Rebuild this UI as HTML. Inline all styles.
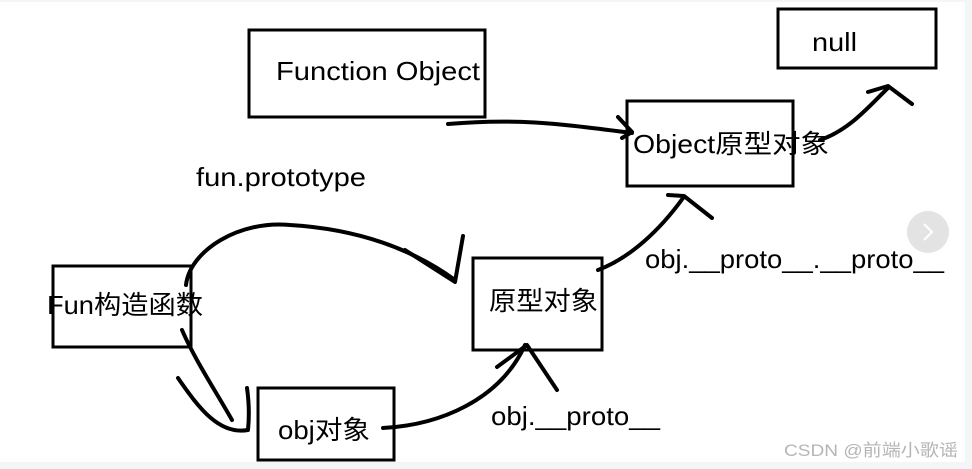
<!DOCTYPE html>
<html><head><meta charset="utf-8"><style>
html,body{margin:0;padding:0;background:#fff;}
svg{display:block}
text{font-family:"Liberation Sans","Noto Sans CJK SC",sans-serif;fill:#000}
</style></head><body>
<svg width="972" height="469" viewBox="0 0 972 469" xmlns="http://www.w3.org/2000/svg">
<rect x="0" y="0" width="972" height="469" fill="#fff"/>
<rect x="0" y="462" width="972" height="7" fill="#f4f5f7"/>
<rect x="965" y="0" width="7" height="469" fill="#f4f5f7"/>
<rect x="0" y="0" width="972" height="2" fill="#f4f5f7"/>
<g fill="none" stroke="#000" stroke-width="3">
<rect x="249" y="30" width="236" height="87"/>
<rect x="778" y="9" width="158" height="59"/>
<rect x="627" y="101" width="166" height="85"/>
<rect x="53" y="266" width="138" height="81"/>
<rect x="473" y="258" width="129" height="92"/>
<rect x="258" y="388" width="136" height="72"/>
</g>
<g fill="none" stroke="#000" stroke-width="4" stroke-linecap="round" stroke-linejoin="round">
<path d="M448 124 C520 118 560 124 632 133"/>
<path d="M618 117 L632 132 L622 138"/>
<path d="M820 140 C850 130 870 105 888 88"/>
<path d="M868 92 L888 86 L912 104"/>
<path d="M598 270 C630 258 660 230 683 198"/>
<path d="M668 195 L684 196 L712 218"/>
<path d="M186 285 C190 250 240 220 290 225 C340 228 400 240 455 280"/>
<path d="M405 250 L455 282 L463 236"/>
<path d="M182 330 C195 360 215 390 232 420"/>
<path d="M178 378 C200 410 220 435 248 430 C250 410 248 395 247 388"/>
<path d="M383 428 C440 425 500 400 525 345"/>
<path d="M497 367 L527 345 L557 390" />
</g>
<g font-size="26">
<text x="276" y="80" textLength="204" lengthAdjust="spacingAndGlyphs">Function Object</text>
<text x="812" y="51" textLength="45" lengthAdjust="spacingAndGlyphs">null</text>
<text x="633" y="153" textLength="196" lengthAdjust="spacingAndGlyphs">Object原型对象</text>
<text x="196" y="186" textLength="170" lengthAdjust="spacingAndGlyphs">fun.prototype</text>
<text x="47" y="314" textLength="156" lengthAdjust="spacingAndGlyphs">Fun构造函数</text>
<text x="489" y="310" textLength="109" lengthAdjust="spacingAndGlyphs">原型对象</text>
<text x="278" y="439" textLength="92" lengthAdjust="spacingAndGlyphs">obj对象</text>
<text x="645" y="268" textLength="299" lengthAdjust="spacingAndGlyphs">obj.__proto__.__proto__</text>
<text x="491" y="425" textLength="169" lengthAdjust="spacingAndGlyphs">obj.__proto__</text>
</g>
<text x="784" y="456" font-size="17" textLength="174" lengthAdjust="spacingAndGlyphs" style="fill:#b5b5b5">CSDN @前端小歌谣</text>
<circle cx="928" cy="232" r="21" fill="#e3e3e3"/>
<path d="M924 224 L932 232 L924 240" fill="none" stroke="#fff" stroke-width="2"/>
</svg>
</body></html>
